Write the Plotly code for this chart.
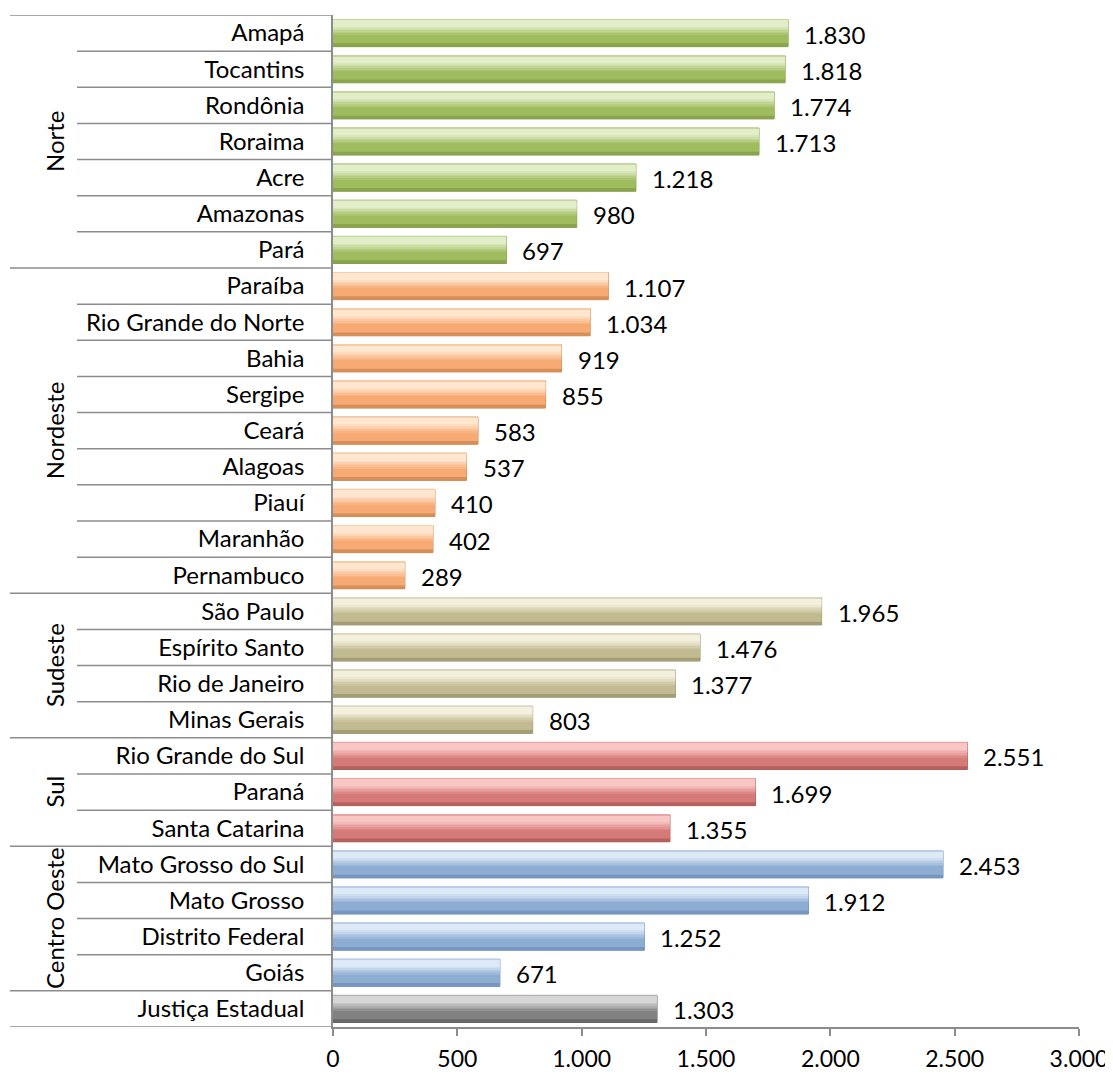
import plotly.graph_objects as go

# ---- data ----
regions = ["Norte", "Nordeste", "Sudeste", "Sul", "Centro Oeste", ""]
states = [
    ["Amapá", "Tocantins", "Rondônia", "Roraima", "Acre", "Amazonas", "Pará"],
    ["Paraíba", "Rio Grande do Norte", "Bahia", "Sergipe", "Ceará", "Alagoas",
     "Piauí", "Maranhão", "Pernambuco"],
    ["São Paulo", "Espírito Santo", "Rio de Janeiro", "Minas Gerais"],
    ["Rio Grande do Sul", "Paraná", "Santa Catarina"],
    ["Mato Grosso do Sul", "Mato Grosso", "Distrito Federal", "Goiás"],
    ["Justiça Estadual"],
]
values = [
    [1830, 1818, 1774, 1713, 1218, 980, 697],
    [1107, 1034, 919, 855, 583, 537, 410, 402, 289],
    [1965, 1476, 1377, 803],
    [2551, 1699, 1355],
    [2453, 1912, 1252, 671],
    [1303],
]
x_ticks = [0, 500, 1000, 1500, 2000, 2500, 3000]

# ---- styles ----
base_col = ["#9FBC5F", "#F7AA74", "#C2BA90", "#D67A78", "#8EADD3", "#828282"]
hi_col = ["#E2EDC9", "#FEE6CF", "#F3F0DE", "#F8C6C4", "#DCE9F7", "#D6D6D6"]
lo_col = ["#7F9A45", "#C9834E", "#98906A", "#A95654", "#6B8CB6", "#5E5E5E"]
FONT = "Lato, Carlito, 'Open Sans', sans-serif"
FS = 24
GRID = "#8C8C8C"

# browser body has an 8px margin: compensate so the page matches
W, H = 1105, 1071
L, T = 325, 7
R = W - 1071
B = H - 1019
pw = W - L - R


def px(p):
    return (p - 8 - L) / pw


def mix(c1, c2, t):
    a = [int(c1[i:i + 2], 16) for i in (1, 3, 5)]
    b = [int(c2[i:i + 2], 16) for i in (1, 3, 5)]
    return "#" + "".join(f"{round(x + (y - x) * t):02X}" for x, y in zip(a, b))


# vertical profile of the bevel: (start, end, color) in bar-height fractions
def bands(g):
    out = [(0.00, 0.05, mix(hi_col[g], base_col[g], 0.45))]
    steps = 10
    for k in range(steps):
        s = 0.05 + k * 0.06
        t = 0 if k < 3 else (k - 3) / (steps - 4)
        out.append((s, s + 0.06, mix(hi_col[g], base_col[g], min(t, 1))))
    out.append((0.65, 0.88, base_col[g]))
    out.append((0.88, 1.00, mix(base_col[g], lo_col[g], 0.7)))
    return out


BW = 0.75
fig = go.Figure()
ids = []
labels = []
idx = 0
for g, (sts, vals) in enumerate(zip(states, values)):
    ys = list(range(idx, idx + len(sts)))
    ids += ys
    labels += sts
    fig.add_trace(go.Bar(x=vals, y=ys, orientation="h", width=BW,
                         marker=dict(color=base_col[g], line=dict(color=lo_col[g], width=1)),
                         hoverinfo="skip", showlegend=False))
    for s, e, c in bands(g):
        fig.add_trace(go.Bar(x=vals, y=ys, orientation="h", width=(e - s) * BW * 1.02,
                             offset=-BW / 2 + s * BW,
                             marker=dict(color=c, line=dict(width=0)),
                             hoverinfo="skip", showlegend=False))
    for y, v in zip(ys, vals):
        fig.add_annotation(x=v, y=y, xref="x", yref="y", text=f"{v:,}".replace(",", "."),
                           showarrow=False, xanchor="left", xshift=14, yshift=-1,
                           font=dict(family=FONT, size=FS, color="#000000"))
    idx += len(sts)

n = idx

# separator lines on the category side
shapes = []
bounds = [-0.5]
acc = -0.5
for sts in states:
    acc += len(sts)
    bounds.append(acc)
for i in range(n + 1):
    yb = i - 0.5
    x0 = px(10) if yb in bounds else px(77)
    shapes.append(dict(type="line", xref="paper", yref="y", x0=x0, x1=0, y0=yb, y1=yb,
                       line=dict(color=GRID, width=1.5)))

# group (region) labels
start = 0
for g, sts in enumerate(states):
    if regions[g]:
        fig.add_annotation(x=px(38), y=start + (len(sts) - 1) / 2, xref="paper", yref="y",
                           text=regions[g], textangle=-90, showarrow=False,
                           font=dict(family=FONT, size=FS, color="#000000"))
    start += len(sts)

fig.update_layout(
    width=W, height=H,
    margin=dict(l=L, r=R, t=T, b=B, autoexpand=False),
    paper_bgcolor="white", plot_bgcolor="white",
    barmode="overlay", bargap=0.25,
    separators=",.",
    shapes=shapes,
    font=dict(family=FONT, size=FS, color="#000000"),
    xaxis=dict(range=[0, 3000], tickvals=x_ticks, tickformat=",d", showgrid=False,
               zeroline=False, showline=True, linecolor=GRID, linewidth=1.5,
               ticks="outside", ticklen=7, tickcolor=GRID, tickwidth=1.5,
               ticklabelstandoff=4, automargin=False,
               tickfont=dict(family=FONT, size=23, color="#000000")),
    yaxis=dict(range=[n - 0.5, -0.5], tickvals=ids, ticktext=labels, showgrid=False,
               zeroline=False, showline=True, linecolor=GRID, linewidth=1.5,
               ticks="", ticklabelstandoff=22, automargin=False,
               tickfont=dict(family=FONT, size=FS, color="#000000")),
)

fig.write_html("out.html")
